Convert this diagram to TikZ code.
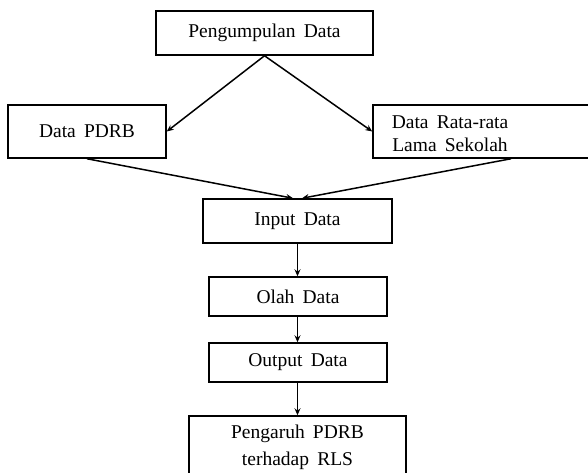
\documentclass[tikz,border=0pt]{standalone}
\usepackage{fontspec}
\setmainfont{Liberation Serif}
\usetikzlibrary{arrows.meta}
\newcommand{\myfont}[1]{\fontsize{19.5}{#1}\selectfont\spaceskip=0.42em\relax}
\begin{document}
\begin{tikzpicture}[x=1pt,y=-1pt,
  box/.style={draw=black,line width=1.5pt,inner sep=0pt,
    font=\myfont{24},align=center},
  lbl/.style={inner sep=0pt,font=\myfont{23},align=center},
  conn/.style={draw=black,line width=1.5pt,-{Stealth[length=7pt,width=6pt,inset=2.5pt]}}]
\useasboundingbox (0,0) rectangle (588,472);
\node[box,minimum width=217pt,minimum height=44pt] (pd) at (264.5,33) {Pengumpulan Data};
\node[box,minimum width=158pt,minimum height=53pt] (pdrb) at (87,131.5) {Data PDRB};
\node[box,minimum width=276pt,minimum height=53pt] (rls) at (511,131.5) {};
\node[lbl] (rlst) at (450,133.5) {Data Rata-rata\\Lama Sekolah};
\node[box,minimum width=189pt,minimum height=44pt] (in) at (297.5,221) {Input Data};
\node[box,minimum width=178pt,minimum height=39pt] (ol) at (298,296.5) {Olah Data};
\node[box,minimum width=178pt,minimum height=39pt] (out) at (298,362.5) {Output Data};
\node[box,minimum width=217pt,minimum height=62pt,font=\myfont{27}] (pg) at (297.5,447) {Pengaruh PDRB\\terhadap RLS};
\draw[conn] (pd.south) -- (pdrb.east);
\draw[conn] (pd.south) -- (rls.west);
\draw[conn] (pdrb.south) -- ([xshift=-4.5pt]in.north);
\draw[conn] (rls.south) -- ([xshift=4.5pt]in.north);
\draw[conn] (in.south) -- (ol.north -| in.south);
\draw[conn] (ol.south -| in.south) -- (out.north -| in.south);
\draw[conn] (out.south -| in.south) -- (pg.north -| in.south);
\end{tikzpicture}
\end{document}
